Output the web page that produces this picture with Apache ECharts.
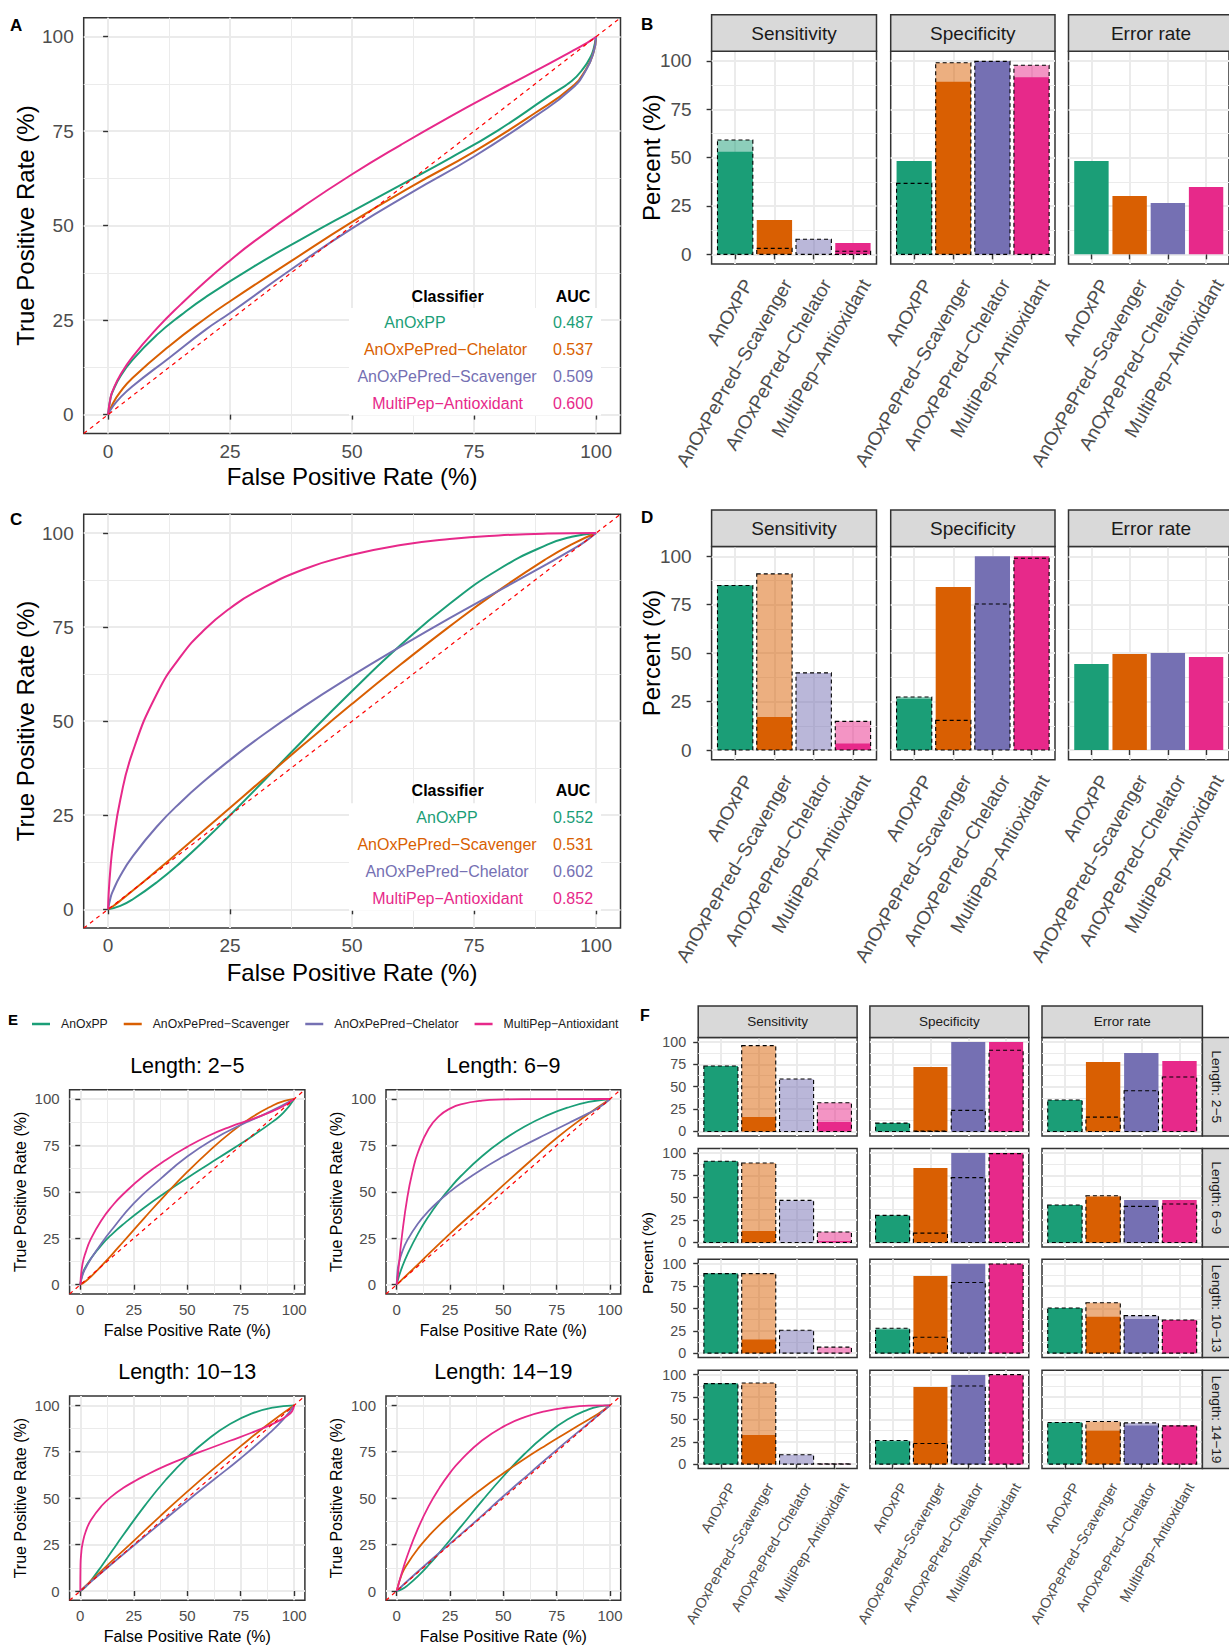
<!DOCTYPE html>
<html><head><meta charset="utf-8">
<script src="https://cdn.jsdelivr.net/npm/echarts@6/dist/echarts.min.js"></script>
<style>html,body{margin:0;padding:0;background:#fff}#c{width:1229px;height:1646px}</style>
</head><body><div id="c"></div>
<script>
// ---------------- DATA ----------------
const COLORS = ['#1B9E77', '#D95F02', '#7570B3', '#E7298A'];
const classifiers = ['AnOxPP', 'AnOxPePred\u2212Scavenger', 'AnOxPePred\u2212Chelator', 'MultiPep\u2212Antioxidant'];
const metrics = ['Sensitivity', 'Specificity', 'Error rate'];
const lengthGroups = ['Length: 2\u22125', 'Length: 6\u22129', 'Length: 10\u221213', 'Length: 14\u221219'];
const rocTicks = [0, 25, 50, 75, 100];
const rocMinor = [12.5, 37.5, 62.5, 87.5];
const pctTicks = [0, 25, 50, 75, 100];
const pctMinor = [12.5, 37.5, 62.5, 87.5];
const diagonal = [[-5, -5], [105, 105]];

// Panel A  ([FPR %, TPR %])
const A_names = ['AnOxPP', 'AnOxPePred\u2212Chelator', 'AnOxPePred\u2212Scavenger', 'MultiPep\u2212Antioxidant'];
const A_auc = ['0.487', '0.537', '0.509', '0.600'];
const A_AnOxPP = [[0,0],[0.5,4.4],[1,6.3],[2.5,10.1],[5,14.5],[10,21.1],[15,26.4],[20,31.1],[30,39.3],[40,46.7],[50,53.8],[60,60.8],[70,67.8],[80,75.3],[90,84],[95,88.3],[97.5,91.8],[99,95],[99.5,96.8],[100,100]];
const A_Chelator = [[0,0],[1,3],[2.5,6],[5,9.7],[12.5,18.1],[20,25.5],[25,30],[37.5,40.6],[50,51],[62.5,60.6],[75,69.6],[87.5,79.8],[95,86.7],[98,91.5],[99.5,96],[100,100]];
const A_Scavenger = [[0,0],[1,2.2],[2.5,4.5],[5,7.5],[12.5,15],[20,22.5],[25,26.9],[37.5,38.4],[50,49.3],[62.5,59],[75,68.3],[87.5,78.9],[95,86.2],[98,91.3],[99.5,96],[100,100]];
const A_MultiPep = [[0,0],[0.5,4.5],[1,6.5],[2.5,10.5],[5,15.3],[10,22.8],[15,29.3],[20,35.3],[25,40.8],[30,45.9],[40,55.1],[50,63.6],[60,71.4],[70,78.8],[80,85.8],[90,92.6],[95,96.1],[97.5,97.9],[99,99.1],[100,100]];

// Panel C
const C_names = ['AnOxPP', 'AnOxPePred\u2212Scavenger', 'AnOxPePred\u2212Chelator', 'MultiPep\u2212Antioxidant'];
const C_auc = ['0.552', '0.531', '0.602', '0.852'];
const C_AnOxPP = [[0,0],[2.5,0.9],[5,2.6],[10,7.2],[15,12.6],[20,18.6],[25,25],[30,31.6],[40,45],[50,58],[60,70.3],[70,81.2],[80,90.3],[90,96.9],[95,99],[100,100]];
const C_Scavenger = [[0,0],[1,0.8],[2.5,2.3],[5,4.9],[10,10.3],[15,15.8],[20,21.4],[25,27],[30,32.6],[40,43.7],[50,54.6],[60,65.1],[70,75.2],[80,84.7],[90,93.3],[95,97],[100,100]];
const C_Chelator = [[0,0],[0.5,3.1],[1,4.9],[2.5,8.9],[5,14],[10,22],[15,28.6],[20,34.4],[25,39.7],[30,44.7],[40,53.8],[50,62.1],[60,69.9],[70,77.4],[80,84.6],[90,91.8],[95,95.5],[97.5,97.5],[100,100]];
const C_MultiPep = [[0,0],[0.1,3.8],[0.5,11.2],[1,17.2],[2.5,29.1],[5,41.7],[10,57.3],[15,67.4],[20,74.6],[25,80],[30,84.2],[40,90.3],[50,94.2],[60,96.8],[70,98.4],[80,99.35],[90,99.85],[100,100]];

// Panel E (order: AnOxPP, Scavenger, Chelator, MultiPep)
const E1_AnOxPP = [[0,0],[1,5.6],[2.5,9.6],[5,14.3],[10,21.5],[15,27.4],[20,32.5],[30,41.6],[40,49.8],[50,57.5],[60,64.9],[70,72.2],[80,79.7],[90,87.8],[95,92.6],[100,100]];
const E1_Scavenger = [[0,0],[2.5,1.9],[5,4.4],[10,10.3],[15,16.5],[20,23],[30,36],[40,48.7],[50,60.7],[60,71.7],[70,81.6],[80,90],[90,96.5],[95,98.8],[100,100]];
const E1_Chelator = [[0,0],[1,5],[2.5,9],[5,14],[10,22.5],[15,30],[25,43.8],[37.5,57],[50,69],[62.5,78.5],[75,86],[87.5,92.5],[100,100]];
const E1_MultiPep = [[0,0],[1,10.9],[2.5,17.4],[5,24.8],[10,34.9],[15,42.5],[20,48.7],[30,58.9],[40,67.2],[50,74.2],[60,80.2],[70,85],[80,89],[90,93.5],[95,96.2],[100,100]];
const E2_AnOxPP = [[0,0],[1,4.3],[2.5,9.3],[5,16.2],[10,27.5],[15,36.9],[20,44.9],[25,52],[30,58.4],[40,69.2],[50,78],[60,85.2],[70,90.9],[80,95.3],[90,98.4],[100,100]];
const E2_Scavenger = [[0,0],[10,11],[25,27.5],[37.5,40.5],[50,53.6],[62.5,66.5],[75,79],[87.5,90],[100,100]];
const E2_Chelator = [[0,0],[0.5,8.3],[1,11.4],[2.5,17.4],[5,24],[10,33],[15,39.7],[20,45.3],[25,50.1],[30,54.5],[40,62.2],[50,69],[60,75.2],[70,81],[80,86.7],[90,92.4],[95,95.5],[100,100]];
const E2_MultiPep = [[0,0],[0.5,4.4],[1,10.2],[2.5,26.5],[5,47],[7.5,61.2],[10,71.3],[15,84],[20,90.9],[25,94.8],[30,97.1],[40,99.1],[50,99.75],[60,99.94],[100,100]];
const E3_AnOxPP = [[0,0],[2.5,2.3],[5,5.7],[10,13.5],[15,21.8],[20,30],[30,45.7],[40,59.9],[50,72],[60,82],[70,89.9],[80,95.5],[90,98.8],[100,100]];
const E3_Scavenger = [[0,0],[10,11],[25,27],[37.5,40.5],[50,53.5],[62.5,66],[75,78],[87.5,89.5],[100,100]];
const E3_Chelator = [[0,0],[10,10],[25,24.5],[37.5,36.5],[50,48.5],[62.5,60],[75,71.5],[87.5,84],[95,92.5],[100,100]];
const E3_MultiPep = [[0,0],[0.1,14],[0.5,21.1],[1,25.2],[2.5,31.9],[5,38.2],[10,45.9],[15,51.2],[20,55.4],[25,58.9],[30,62],[40,67.5],[50,72.2],[60,76.6],[70,80.9],[80,85.2],[90,90],[95,93],[97.5,95],[99,96.8],[100,100]];
const E4_AnOxPP = [[0,0],[2.5,1],[5,2.9],[10,8],[15,14],[20,20.6],[30,34.5],[40,48.5],[50,61.8],[60,73.9],[70,84.1],[80,92.3],[90,97.8],[95,99.4],[100,100]];
const E4_Scavenger = [[0,0],[2.5,9.3],[5,14.6],[10,22.8],[15,29.6],[20,35.5],[30,45.9],[40,55.1],[50,63.4],[60,71.2],[70,78.5],[80,85.5],[90,92.4],[95,95.9],[100,100]];
const E4_Chelator = [[0,0],[10,10.5],[25,25.5],[37.5,38],[50,51],[62.5,63.5],[75,76],[87.5,88],[100,100]];
const E4_MultiPep = [[0,0],[1,4.1],[2.5,10.1],[5,19],[10,33.7],[15,45.7],[20,55.4],[25,63.6],[30,70.4],[40,81],[50,88.5],[60,93.6],[70,96.9],[80,98.8],[90,99.8],[100,100]];

// Panel B bars (solid = filled bar, dashed = translucent dashed bar)
const B_sens_solid = [53.1, 17.8, 0, 5.9];
const B_sens_dashed = [59.1, 3.1, 7.8, 1.6];
const B_spec_solid = [48.3, 89.3, 99.8, 91.6];
const B_spec_dashed = [36.7, 99.1, 99.8, 97.8];
const B_err_solid = [48.3, 30.2, 26.6, 34.8];
// Panel D bars
const D_sens_solid = [84.9, 17.0, 0, 3.4];
const D_sens_dashed = [84.9, 90.9, 39.8, 14.8];
const D_spec_solid = [26.5, 84.2, 100, 100];
const D_spec_dashed = [27.4, 15.3, 75.4, 99.0];
const D_err_solid = [44.4, 49.6, 50.1, 48.0];
// Panel F bars
const F1_sens_solid = [73.1, 16.0, 0, 10.4];
const F1_sens_dashed = [73.1, 95.9, 58.6, 32.1];
const F1_spec_solid = [9.3, 72.0, 100, 100];
const F1_spec_dashed = [9.3, 0.3, 23.5, 90.7];
const F1_err_solid = [35.1, 77.6, 87.7, 78.7];
const F1_err_dashed = [35.1, 16.0, 45.5, 60.8];
const F2_sens_solid = [90.7, 12.7, 0, 1.5];
const F2_sens_dashed = [90.7, 88.8, 47.0, 11.6];
const F2_spec_solid = [30.2, 83.2, 100, 100];
const F2_spec_dashed = [30.2, 10.4, 72.4, 99.3];
const F2_err_solid = [41.8, 51.1, 47.4, 47.4];
const F2_err_dashed = [41.8, 52.2, 40.3, 42.9];
const F3_sens_solid = [88.9, 15.2, 0, 0];
const F3_sens_dashed = [88.9, 88.9, 25.6, 6.7];
const F3_spec_solid = [26.3, 86.3, 100, 100];
const F3_spec_dashed = [27.8, 17.8, 78.9, 99.6];
const F3_err_solid = [50.4, 40.7, 38.1, 37.0];
const F3_err_dashed = [50.4, 56.3, 41.9, 37.0];
const F4_sens_solid = [90.0, 32.7, 0, 0];
const F4_sens_dashed = [90.0, 90.7, 10.4, 0.3];
const F4_spec_solid = [25.7, 86.2, 99.6, 99.3];
const F4_spec_dashed = [26.4, 23.0, 87.4, 100];
const F4_err_solid = [46.5, 37.2, 43.1, 43.1];
const F4_err_dashed = [46.5, 47.6, 46.1, 42.8];

// ---------------- BUILD ----------------
const FONT = '"Liberation Sans", Arial, Helvetica, sans-serif';
const option = {
  animation: false,
  backgroundColor: '#ffffff',
  textStyle: { fontFamily: FONT },
  grid: [], xAxis: [], yAxis: [], series: [],
  graphic: { elements: [] },
  legend: {
    show: true, left: 27, top: 1013, orient: 'horizontal', icon: 'rect',
    itemWidth: 18, itemHeight: 2.5, itemGap: 16, selectedMode: false,
    data: classifiers,
    textStyle: { fontSize: 12.2, color: '#1A1A1A', fontFamily: FONT, padding: [0, 0, 0, 6] }
  }
};
const G = option.graphic.elements;

function txt(x, y, text, size, o) {
  o = o || {};
  const al = o.align || 'center', va = o.valign || 'middle';
  G.push({ type: 'text', x: x, y: y, rotation: o.rot || 0, z: 100, silent: true,
    style: { text: text, fill: o.color || '#000000', fontSize: size, fontFamily: FONT,
      fontWeight: o.bold ? 'bold' : 'normal', textAlign: al, textVerticalAlign: va, align: al, verticalAlign: va } });
}
function box(x, y, w, h, fill, stroke, lw) {
  G.push({ type: 'rect', z: 90, silent: true, shape: { x: x, y: y, width: w, height: h },
    style: { fill: fill, stroke: stroke || null, lineWidth: lw || 0 } });
}
function addGrid(l, t, w, h) {
  option.grid.push({ left: l, top: t, width: w, height: h, show: true, borderColor: '#333333',
    borderWidth: 1.5, backgroundColor: 'transparent', containLabel: false });
  return option.grid.length - 1;
}
function addAxis(gi, dim, c) {
  const arr = dim === 'x' ? option.xAxis : option.yAxis;
  const lab = { show: !!c.showLabels, customValues: c.labelValues || c.ticks, fontSize: c.fontSize,
    color: '#4D4D4D', fontFamily: FONT, margin: c.margin, rotate: c.rotate || 0 };
  if (c.formatter) lab.formatter = c.formatter;
  if (c.align) lab.align = c.align;
  if (c.valign) lab.verticalAlign = c.valign;
  arr.push({ type: 'value', gridIndex: gi, min: c.min, max: c.max,
    position: dim === 'x' ? 'bottom' : 'left',
    axisLine: { show: false },
    axisTick: { show: !!c.showTicks, customValues: c.ticks, length: 5, lineStyle: { color: '#333333', width: 1.4 } },
    axisLabel: lab,
    splitLine: { show: true, lineStyle: { color: '#EBEBEB', width: 2 } },
    minorSplitLine: { show: false } });
  const idx = arr.length - 1;
  if (c.minor) {
    arr.push({ type: 'value', gridIndex: gi, min: c.min, max: c.max,
      position: dim === 'x' ? 'top' : 'right',
      axisLine: { show: false },
      axisTick: { show: false, customValues: c.minor },
      axisLabel: { show: false, customValues: c.minor },
      splitLine: { show: true, lineStyle: { color: '#EBEBEB', width: 1 } } });
  }
  return idx;
}
function rocPanel(rect, curves, names, o) {
  const gi = addGrid(rect[0], rect[1], rect[2], rect[3]);
  const xi = addAxis(gi, 'x', { min: -5, max: 105, ticks: rocTicks, minor: rocMinor, showTicks: true, showLabels: true, fontSize: o.fs, margin: o.xm });
  const yi = addAxis(gi, 'y', { min: -5, max: 105, ticks: rocTicks, minor: rocMinor, showTicks: true, showLabels: true, fontSize: o.fs, margin: o.ym });
  curves.forEach(function (c, i) {
    option.series.push({ type: 'line', name: names[i], xAxisIndex: xi, yAxisIndex: yi, data: c,
      showSymbol: false, symbol: 'none', smooth: 0.5, silent: true, z: 3,
      lineStyle: { color: COLORS[i], width: o.lw }, itemStyle: { color: COLORS[i] } });
  });
  option.series.push({ type: 'line', name: 'diag' + gi, xAxisIndex: xi, yAxisIndex: yi, data: diagonal,
    symbol: 'none', silent: true, z: 4, lineStyle: { color: '#FF0000', width: 1.2, type: [4, 4] } });
}
function hexA(h, a) {
  const r = parseInt(h.slice(1, 3), 16), g = parseInt(h.slice(3, 5), 16), b = parseInt(h.slice(5, 7), 16);
  return 'rgba(' + r + ',' + g + ',' + b + ',' + a + ')';
}
function renderBar(dashed) {
  return function (params, api) {
    const i = api.value(0), v = api.value(1);
    const a = api.coord([i - 0.45, 0]), b = api.coord([i + 0.45, v]);
    const c = COLORS[i - 1];
    return { type: 'rect',
      shape: { x: a[0], y: Math.min(a[1], b[1]), width: b[0] - a[0], height: Math.abs(a[1] - b[1]) },
      style: dashed ? { fill: hexA(c, 0.5), stroke: '#000000', lineWidth: 1.1, lineDash: [4, 3] } : { fill: c } };
  };
}
function barPanel(rect, solid, dashed, o) {
  const gi = addGrid(rect[0], rect[1], rect[2], rect[3]);
  const sh = o.shift;
  const xi = addAxis(gi, 'x', { min: 0.4, max: 4.6, ticks: [1, 2, 3, 4],
    labelValues: [1 + sh, 2 + sh, 3 + sh, 4 + sh],
    formatter: function (v) { return classifiers[Math.round(v) - 1]; },
    showTicks: o.xShow, showLabels: o.xShow, rotate: 60, align: 'right', valign: 'top', fontSize: o.fs, margin: o.xm });
  const yi = addAxis(gi, 'y', { min: -5, max: 105, ticks: pctTicks, minor: pctMinor,
    showTicks: o.yShow, showLabels: o.yShow, fontSize: o.fs, margin: o.ym });
  option.series.push({ type: 'custom', name: 'solid' + gi, xAxisIndex: xi, yAxisIndex: yi, silent: true, z: 3,
    data: solid.map(function (v, i) { return [i + 1, v]; }), renderItem: renderBar(false) });
  if (dashed) {
    option.series.push({ type: 'custom', name: 'dashed' + gi, xAxisIndex: xi, yAxisIndex: yi, silent: true, z: 4,
      data: dashed.map(function (v, i) { return [i + 1, v]; }), renderItem: renderBar(true) });
  }
}

// ----- Panel A & C -----
rocPanel([83.7, 17.8, 536.8, 415.7], [A_AnOxPP, A_Chelator, A_Scavenger, A_MultiPep], A_names.map(function (n) { return 'A ' + n; }), { fs: 19, xm: 8, ym: 10, lw: 2 });
rocPanel([83.7, 514.2, 536.8, 413.9], [C_AnOxPP, C_Scavenger, C_Chelator, C_MultiPep], C_names.map(function (n) { return 'C ' + n; }), { fs: 19, xm: 8, ym: 10, lw: 2 });

function rocTable(names, aucs, headY, rowYs, boxY, nameX) {
  box(349, boxY, 252, 107.5, '#ffffff', null, 0);
  txt(447.6, headY, 'Classifier', 16, { bold: true });
  txt(573, headY, 'AUC', 16, { bold: true });
  names.forEach(function (n, i) {
    txt(nameX[i], rowYs[i], n, 16, { color: COLORS[i] });
    txt(573, rowYs[i], aucs[i], 16, { color: COLORS[i] });
  });
}
rocTable(A_names, A_auc, 296, [322, 349, 376, 403], 308, [415, 445.5, 447, 447.6]);
rocTable(C_names, C_auc, 790.7, [817.3, 844.3, 871.7, 898.3], 803.3, [447, 447, 447, 447.6]);

txt(10, 17, 'A', 17, { bold: true, align: 'left', valign: 'top' });
txt(10, 511, 'C', 17, { bold: true, align: 'left', valign: 'top' });
txt(352, 476, 'False Positive Rate (%)', 24);
txt(352, 972, 'False Positive Rate (%)', 24);
txt(25, 225.6, 'True Positive Rate (%)', 24, { rot: Math.PI / 2 });
txt(25, 721, 'True Positive Rate (%)', 24, { rot: Math.PI / 2 });

// ----- Panel B & D -----
const bdCols = [[711.6, 164.9], [890.7, 164.3], [1068.5, 165]];
const B_solids = [B_sens_solid, B_spec_solid, B_err_solid];
const B_dashes = [B_sens_dashed, B_spec_dashed, null];
const D_solids = [D_sens_solid, D_spec_solid, D_err_solid];
const D_dashes = [D_sens_dashed, D_spec_dashed, null];
function bdPanel(top, h, stripTop, solids, dashes) {
  bdCols.forEach(function (c, j) {
    barPanel([c[0], top, c[1], h], solids[j], dashes[j], { shift: 0.12, xShow: true, yShow: j === 0, fs: 19, xm: 12, ym: 20 });
    box(c[0], stripTop, c[1], top - stripTop, '#D9D9D9', '#333333', 1.5);
    txt(c[0] + c[1] / 2, (stripTop + top) / 2, metrics[j], 19, { color: '#1A1A1A' });
  });
}
bdPanel(51.3, 212.7, 14.7, B_solids, B_dashes);
bdPanel(546.6, 213.1, 510, D_solids, D_dashes);
txt(641, 16, 'B', 17, { bold: true, align: 'left', valign: 'top' });
txt(641, 509, 'D', 17, { bold: true, align: 'left', valign: 'top' });
txt(651, 157.7, 'Percent (%)', 24, { rot: Math.PI / 2 });
txt(651, 653, 'Percent (%)', 24, { rot: Math.PI / 2 });

// ----- Panel E -----
const eRects = [[69.6, 1089.7, 235.3, 204.3], [386, 1089.7, 234.7, 204.3], [69.6, 1396, 235.3, 204.3], [386, 1396, 234.7, 204.3]];
const eCurves = [[E1_AnOxPP, E1_Scavenger, E1_Chelator, E1_MultiPep], [E2_AnOxPP, E2_Scavenger, E2_Chelator, E2_MultiPep],
  [E3_AnOxPP, E3_Scavenger, E3_Chelator, E3_MultiPep], [E4_AnOxPP, E4_Scavenger, E4_Chelator, E4_MultiPep]];
eRects.forEach(function (r, k) {
  rocPanel(r, eCurves[k], classifiers, { fs: 15, xm: 8, ym: 10, lw: 1.8 });
  const cx = r[0] + r[2] / 2;
  txt(cx, r[1] - 23.7, lengthGroups[k], 21.5);
  txt(cx, r[1] + r[3] + 36, 'False Positive Rate (%)', 16);
  txt(r[0] - 49.5, r[1] + r[3] / 2, 'True Positive Rate (%)', 16, { rot: Math.PI / 2 });
});
txt(8, 1012, 'E', 15, { bold: true, align: 'left', valign: 'top' });

// ----- Panel F -----
const fCols = [[698.2, 158.9], [869.9, 158.9], [1042, 160.4]];
const fTops = [1037.5, 1148.5, 1259.2, 1370.2];
const fH = 98.4;
const F_solids = [[F1_sens_solid, F1_spec_solid, F1_err_solid], [F2_sens_solid, F2_spec_solid, F2_err_solid],
  [F3_sens_solid, F3_spec_solid, F3_err_solid], [F4_sens_solid, F4_spec_solid, F4_err_solid]];
const F_dashes = [[F1_sens_dashed, F1_spec_dashed, F1_err_dashed], [F2_sens_dashed, F2_spec_dashed, F2_err_dashed],
  [F3_sens_dashed, F3_spec_dashed, F3_err_dashed], [F4_sens_dashed, F4_spec_dashed, F4_err_dashed]];
fTops.forEach(function (t, r) {
  fCols.forEach(function (c, j) {
    barPanel([c[0], t, c[1], fH], F_solids[r][j], F_dashes[r][j], { shift: 0.13, xShow: r === 3, yShow: j === 0, fs: 14.3, xm: 12, ym: 12 });
  });
  box(1202.4, t, 28.5, fH, '#D9D9D9', '#333333', 1.5);
  txt(1216.6, t + fH / 2, lengthGroups[r], 13.7, { rot: -Math.PI / 2, color: '#1A1A1A' });
});
fCols.forEach(function (c, j) {
  box(c[0], 1006, c[1], 31.5, '#D9D9D9', '#333333', 1.5);
  txt(c[0] + c[1] / 2, 1021.75, metrics[j], 13.5, { color: '#1A1A1A' });
});
txt(640, 1007, 'F', 16, { bold: true, align: 'left', valign: 'top' });
txt(647.5, 1253, 'Percent (%)', 15.5, { rot: Math.PI / 2 });

const chart = echarts.init(document.getElementById('c'), null, { renderer: 'svg' });
chart.setOption(option);
</script></body></html>
